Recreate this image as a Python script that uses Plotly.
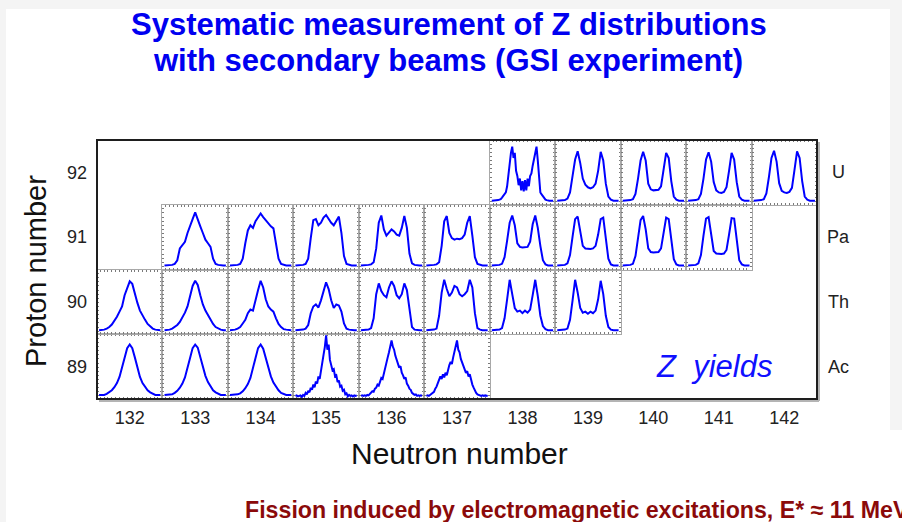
import plotly.graph_objects as go

W, H = 902, 522

# ---------------- data ----------------
neutron_numbers = list(range(132, 143))
proton_numbers = [89, 90, 91, 92]
element_labels = ["Ac", "Th", "Pa", "U"]

# fragment charge sample positions inside each small panel
z_frag = list(range(24, 73, 2))      # 25 samples
z_frag_fine = list(range(24, 73))    # 49 samples (noisy spectra)

# ---- Z = 89 (Ac) ----
ac_132 = [0.02, 0.02, 0.02, 0.04, 0.07, 0.11, 0.17, 0.25, 0.37, 0.54, 0.75, 0.93, 1.00,
          0.93, 0.75, 0.54, 0.37, 0.25, 0.17, 0.11, 0.07, 0.04, 0.02, 0.02, 0.02]
ac_133 = [0.02, 0.02, 0.02, 0.03, 0.06, 0.10, 0.16, 0.24, 0.36, 0.53, 0.74, 0.93, 1.00,
          0.94, 0.76, 0.56, 0.39, 0.27, 0.18, 0.11, 0.07, 0.04, 0.02, 0.02, 0.02]
ac_134 = [0.02, 0.02, 0.02, 0.03, 0.05, 0.09, 0.15, 0.23, 0.35, 0.52, 0.74, 0.93, 1.00,
          0.92, 0.74, 0.54, 0.38, 0.26, 0.17, 0.11, 0.06, 0.04, 0.02, 0.02, 0.02]
ac_135 = [0.00, 0.01, -0.01, 0.00, 0.01, -0.02, 0.02, 0.00, 0.06, 0.03, 0.10, 0.07, 0.16,
          0.12, 0.22, 0.17, 0.28, 0.24, 0.38, 0.33, 0.52, 0.62, 0.80, 0.95, 1.18, 0.90,
          1.00, 0.70, 0.62, 0.50, 0.52, 0.38, 0.40, 0.27, 0.30, 0.18, 0.20, 0.10, 0.12,
          0.03, 0.05, -0.01, 0.02, 0.00, 0.01, -0.01, 0.01, 0.00, 0.01]
ac_136 = [0.00, 0.01, 0.00, 0.01, 0.00, 0.02, 0.01, 0.04, 0.05, 0.09, 0.08, 0.14, 0.16,
          0.22, 0.20, 0.30, 0.35, 0.33, 0.45, 0.52, 0.62, 0.75, 0.85, 0.98, 1.08, 0.96,
          0.90, 0.78, 0.70, 0.62, 0.55, 0.58, 0.45, 0.40, 0.33, 0.36, 0.24, 0.20, 0.14,
          0.12, 0.06, 0.04, 0.02, 0.03, 0.00, 0.01, 0.00, 0.01, 0.00]
ac_137 = [0.00, 0.01, 0.00, 0.02, 0.03, 0.06, 0.08, 0.14, 0.18, 0.25, 0.30, 0.38, 0.33,
          0.42, 0.36, 0.45, 0.40, 0.52, 0.60, 0.66, 0.62, 0.75, 0.88, 0.95, 1.08, 0.90,
          0.85, 0.72, 0.65, 0.60, 0.50, 0.45, 0.48, 0.38, 0.42, 0.30, 0.22, 0.16, 0.10,
          0.06, 0.03, 0.02, 0.01, 0.00, 0.01, 0.00, 0.01, 0.00, 0.00]

# ---- Z = 90 (Th) ----
th_132 = [0.02, 0.02, 0.03, 0.05, 0.08, 0.13, 0.20, 0.28, 0.38, 0.48, 0.70, 0.85, 0.97,
          0.92, 0.72, 0.55, 0.40, 0.30, 0.22, 0.14, 0.09, 0.05, 0.03, 0.02, 0.02]
th_133 = [0.02, 0.02, 0.03, 0.05, 0.08, 0.12, 0.18, 0.26, 0.36, 0.48, 0.68, 0.88, 0.98,
          0.90, 0.70, 0.52, 0.40, 0.31, 0.22, 0.14, 0.08, 0.05, 0.03, 0.02, 0.02]
th_134 = [0.02, 0.02, 0.03, 0.05, 0.08, 0.15, 0.22, 0.35, 0.42, 0.40, 0.62, 0.80, 0.98,
          0.85, 0.62, 0.48, 0.42, 0.38, 0.25, 0.14, 0.08, 0.04, 0.03, 0.02, 0.02]
th_135 = [0.02, 0.02, 0.02, 0.03, 0.05, 0.12, 0.35, 0.48, 0.52, 0.46, 0.60, 0.78, 0.95,
          0.82, 0.60, 0.45, 0.52, 0.50, 0.38, 0.15, 0.05, 0.03, 0.02, 0.02, 0.02]
th_136 = [0.02, 0.02, 0.02, 0.03, 0.06, 0.25, 0.72, 0.93, 0.78, 0.70, 0.66, 0.85, 0.97,
          0.88, 0.70, 0.64, 0.72, 0.93, 0.80, 0.40, 0.08, 0.03, 0.02, 0.02, 0.02]
th_137 = [0.02, 0.02, 0.02, 0.03, 0.05, 0.30, 0.75, 1.00, 0.82, 0.68, 0.75, 0.88, 0.85,
          0.72, 0.68, 0.72, 0.78, 1.00, 0.85, 0.35, 0.06, 0.03, 0.02, 0.02, 0.02]
th_138 = [0.02, 0.02, 0.02, 0.03, 0.06, 0.25, 0.62, 1.00, 0.72, 0.45, 0.38, 0.40, 0.35,
          0.40, 0.36, 0.42, 0.70, 1.00, 0.68, 0.30, 0.10, 0.04, 0.02, 0.02, 0.02]
th_139 = [0.02, 0.02, 0.02, 0.03, 0.05, 0.22, 0.60, 1.00, 0.75, 0.45, 0.36, 0.38, 0.34,
          0.38, 0.35, 0.40, 0.62, 0.98, 0.72, 0.30, 0.08, 0.03, 0.02, 0.02, 0.02]

# ---- Z = 91 (Pa) ----
pa_133 = [0.02, 0.02, 0.02, 0.03, 0.05, 0.12, 0.35, 0.42, 0.48, 0.65, 0.80, 0.92, 1.05,
          0.90, 0.78, 0.65, 0.52, 0.45, 0.38, 0.15, 0.05, 0.03, 0.02, 0.02, 0.02]
pa_134 = [0.02, 0.02, 0.02, 0.03, 0.05, 0.15, 0.45, 0.70, 0.80, 0.75, 0.88, 0.95, 1.03,
          0.96, 0.90, 0.82, 0.78, 0.74, 0.45, 0.15, 0.05, 0.03, 0.02, 0.02, 0.02]
pa_135 = [0.02, 0.02, 0.02, 0.03, 0.05, 0.15, 0.55, 0.90, 0.92, 0.80, 0.85, 0.95, 1.00,
          0.92, 0.85, 0.80, 0.90, 0.97, 0.65, 0.20, 0.05, 0.03, 0.02, 0.02, 0.02]
pa_136 = [0.02, 0.02, 0.02, 0.03, 0.04, 0.08, 0.35, 0.85, 0.99, 0.72, 0.60, 0.65, 0.72,
          0.68, 0.62, 0.60, 0.75, 0.98, 0.75, 0.25, 0.06, 0.03, 0.02, 0.02, 0.02]
pa_137 = [0.02, 0.02, 0.02, 0.03, 0.04, 0.08, 0.40, 0.88, 0.98, 0.65, 0.55, 0.52, 0.54,
          0.53, 0.55, 0.62, 0.85, 0.98, 0.60, 0.18, 0.05, 0.03, 0.02, 0.02, 0.02]
pa_138 = [0.02, 0.02, 0.02, 0.03, 0.05, 0.18, 0.50, 0.85, 0.99, 0.80, 0.45, 0.38, 0.37,
          0.37, 0.38, 0.48, 0.82, 0.99, 0.75, 0.40, 0.12, 0.04, 0.02, 0.02, 0.02]
pa_139 = [0.02, 0.02, 0.02, 0.03, 0.06, 0.22, 0.58, 0.92, 0.97, 0.70, 0.40, 0.35, 0.34,
          0.34, 0.35, 0.40, 0.62, 0.92, 0.95, 0.55, 0.15, 0.04, 0.02, 0.02, 0.02]
pa_140 = [0.02, 0.02, 0.02, 0.03, 0.05, 0.20, 0.55, 0.90, 0.98, 0.72, 0.35, 0.28, 0.27,
          0.27, 0.28, 0.35, 0.65, 0.95, 0.92, 0.50, 0.14, 0.04, 0.02, 0.02, 0.02]
pa_141 = [0.02, 0.02, 0.02, 0.03, 0.06, 0.22, 0.60, 0.93, 0.96, 0.65, 0.30, 0.25, 0.24,
          0.24, 0.25, 0.32, 0.62, 0.94, 0.93, 0.48, 0.12, 0.04, 0.02, 0.02, 0.02]

# ---- Z = 92 (U) ----
u_138 = [0.02, 0.02, 0.02, 0.02, 0.03, 0.03, 0.04, 0.05, 0.08, 0.12, 0.15, 0.18, 0.30,
         0.55, 0.80, 0.95, 1.07, 0.85, 0.95, 0.60, 0.50, 0.32, 0.45, 0.22, 0.40, 0.20,
         0.42, 0.22, 0.45, 0.30, 0.50, 0.55, 0.70, 0.85, 0.92, 1.07, 0.80, 0.40, 0.18,
         0.14, 0.10, 0.06, 0.04, 0.03, 0.02, 0.02, 0.02, 0.02, 0.02]
u_139 = [0.02, 0.02, 0.02, 0.03, 0.06, 0.18, 0.50, 0.82, 0.98, 0.75, 0.45, 0.33, 0.28,
         0.26, 0.28, 0.35, 0.60, 0.97, 0.80, 0.35, 0.10, 0.04, 0.02, 0.02, 0.02]
u_140 = [0.02, 0.02, 0.02, 0.03, 0.05, 0.15, 0.45, 0.80, 0.97, 0.80, 0.35, 0.24, 0.22,
         0.22, 0.23, 0.30, 0.60, 0.95, 0.85, 0.40, 0.10, 0.04, 0.02, 0.02, 0.02]
u_141 = [0.02, 0.02, 0.02, 0.03, 0.05, 0.15, 0.45, 0.82, 0.96, 0.78, 0.38, 0.22, 0.18,
         0.17, 0.19, 0.28, 0.60, 0.95, 0.82, 0.38, 0.10, 0.04, 0.02, 0.02, 0.02]
u_142 = [0.02, 0.02, 0.02, 0.03, 0.05, 0.16, 0.48, 0.85, 0.99, 0.78, 0.36, 0.21, 0.18,
         0.17, 0.19, 0.27, 0.62, 0.98, 0.85, 0.40, 0.10, 0.04, 0.02, 0.02, 0.02]

cells = [
    (89, 132, ac_132), (89, 133, ac_133), (89, 134, ac_134),
    (89, 135, ac_135), (89, 136, ac_136), (89, 137, ac_137),
    (90, 132, th_132), (90, 133, th_133), (90, 134, th_134), (90, 135, th_135),
    (90, 136, th_136), (90, 137, th_137), (90, 138, th_138), (90, 139, th_139),
    (91, 133, pa_133), (91, 134, pa_134), (91, 135, pa_135), (91, 136, pa_136),
    (91, 137, pa_137), (91, 138, pa_138), (91, 139, pa_139), (91, 140, pa_140),
    (91, 141, pa_141),
    (92, 138, u_138), (92, 139, u_139), (92, 140, u_140), (92, 141, u_141),
    (92, 142, u_142),
]

# ---------------- geometry (pixels) ----------------
FL, FR, FT, FB = 97, 817, 140, 399
CW = (FR - FL) / len(neutron_numbers)
RH = (FB - FT) / len(proton_numbers)


def px(x):
    return x / W


def py(y):
    return 1 - y / H


fig = go.Figure()
layout = {}

# main axes (labels only)
layout["xaxis"] = dict(domain=[px(FL), px(FR)], anchor="y", range=[131.5, 142.5],
                       tickvals=neutron_numbers, ticks="", showline=False,
                       showgrid=False, zeroline=False, ticklabelstandoff=6,
                       tickfont=dict(family="Liberation Sans", size=18, color="#222"),
                       fixedrange=True, automargin=False)
layout["yaxis"] = dict(domain=[py(FB), py(FT)], anchor="x", range=[88.5, 92.5],
                       tickvals=proton_numbers, ticks="", showline=False,
                       showgrid=False, zeroline=False, ticklabelstandoff=9,
                       tickfont=dict(family="Liberation Sans", size=18, color="#222"),
                       fixedrange=True, automargin=False)
fig.add_trace(go.Scatter(x=[], y=[], xaxis="x", yaxis="y", showlegend=False,
                         hoverinfo="skip"))

for k, (zp, nn, vals) in enumerate(cells):
    idx = k + 2
    col = nn - neutron_numbers[0]
    row = zp - proton_numbers[0]
    x0 = FL + col * CW
    x1 = x0 + CW
    yb = FB - row * RH
    yt = yb - RH
    common = dict(showline=True, linecolor="#a8a8a8", linewidth=1, mirror="ticks",
                  ticks="inside", ticklen=2, tickwidth=1, tickcolor="#7a7a7a",
                  showticklabels=False, showgrid=False, zeroline=False,
                  fixedrange=True, automargin=False)
    layout[f"xaxis{idx}"] = dict(domain=[px(x0), px(x1)], anchor=f"y{idx}",
                                 range=[22.4, 73.6], tick0=22, dtick=3, **common)
    layout[f"yaxis{idx}"] = dict(domain=[py(yb), py(yt)], anchor=f"x{idx}",
                                 range=[-0.06, 1.2], tick0=0, dtick=0.08, **common)
    xs = z_frag if len(vals) == len(z_frag) else z_frag_fine
    fig.add_trace(go.Scatter(x=xs, y=vals, mode="lines",
                             line=dict(color="#0000ff", width=2),
                             xaxis=f"x{idx}", yaxis=f"y{idx}",
                             showlegend=False, hoverinfo="skip"))

shapes = [
    # grey screen margins
    dict(type="rect", xref="paper", yref="paper", x0=0, x1=1, y0=py(9), y1=1,
         fillcolor="#f4f4f4", line=dict(width=0), layer="below"),
    dict(type="rect", xref="paper", yref="paper", x0=0, x1=px(6), y0=0, y1=1,
         fillcolor="#f4f4f4", line=dict(width=0), layer="below"),
    dict(type="rect", xref="paper", yref="paper", x0=px(890), x1=1, y0=py(430), y1=1,
         fillcolor="#f4f4f4", line=dict(width=0), layer="below"),
    # frame shadow
    dict(type="line", xref="paper", yref="paper", x0=px(FL + 2), x1=px(FR + 2),
         y0=py(FB + 2), y1=py(FB + 2), line=dict(color="#b4b4b4", width=2), layer="above"),
    dict(type="line", xref="paper", yref="paper", x0=px(FR + 2), x1=px(FR + 2),
         y0=py(FT + 2), y1=py(FB + 2), line=dict(color="#b4b4b4", width=2), layer="above"),
    # outer frame
    dict(type="rect", xref="paper", yref="paper", x0=px(FL), x1=px(FR),
         y0=py(FB), y1=py(FT), line=dict(color="#1e1e1e", width=2), layer="above"),
]

annotations = [
    dict(text="<b>Systematic measurement of Z distributions</b>", x=px(449), y=py(25),
         font=dict(family="Liberation Sans", size=31, color="#0000f0")),
    dict(text="<b>with secondary beams (GSI experiment)</b>", x=px(448), y=py(61),
         font=dict(family="Liberation Sans", size=31, color="#0000f0")),
    dict(text="Proton number", x=px(36), y=py(271), textangle=-90,
         font=dict(family="Liberation Sans", size=29, color="#111")),
    dict(text="Neutron number", x=px(459), y=py(453),
         font=dict(family="Liberation Sans", size=30, color="#111")),
    dict(text="<i>Z  yields</i>", x=px(714), y=py(366),
         font=dict(family="Liberation Sans", size=31, color="#1010ff")),
    dict(text="<b>Fission induced by electromagnetic excitations, E* \u2248 11 MeV</b>",
         x=px(243), y=py(510), xanchor="left",
         font=dict(family="Liberation Sans", size=23.2, color="#8b0a0a")),
]
for zp, lab in zip(proton_numbers, element_labels):
    annotations.append(dict(text=lab, x=px(838), xref="paper", y=zp, yref="y",
                            font=dict(family="Liberation Sans", size=18, color="#222")))

for a in annotations:
    a.setdefault("xref", "paper")
    a.setdefault("yref", "paper")
    a.setdefault("xanchor", "center")
    a.setdefault("yanchor", "middle")
    a["showarrow"] = False

layout.update(dict(width=W, height=H, autosize=False,
                   margin=dict(l=0, r=0, t=0, b=0, pad=0),
                   paper_bgcolor="white", plot_bgcolor="rgba(0,0,0,0)",
                   showlegend=False, shapes=shapes, annotations=annotations))
fig.update_layout(**layout)

fig.write_html("out.html", config={"displayModeBar": False},
               post_script="document.body.style.margin='0';"
                           "document.body.style.overflow='hidden';")
